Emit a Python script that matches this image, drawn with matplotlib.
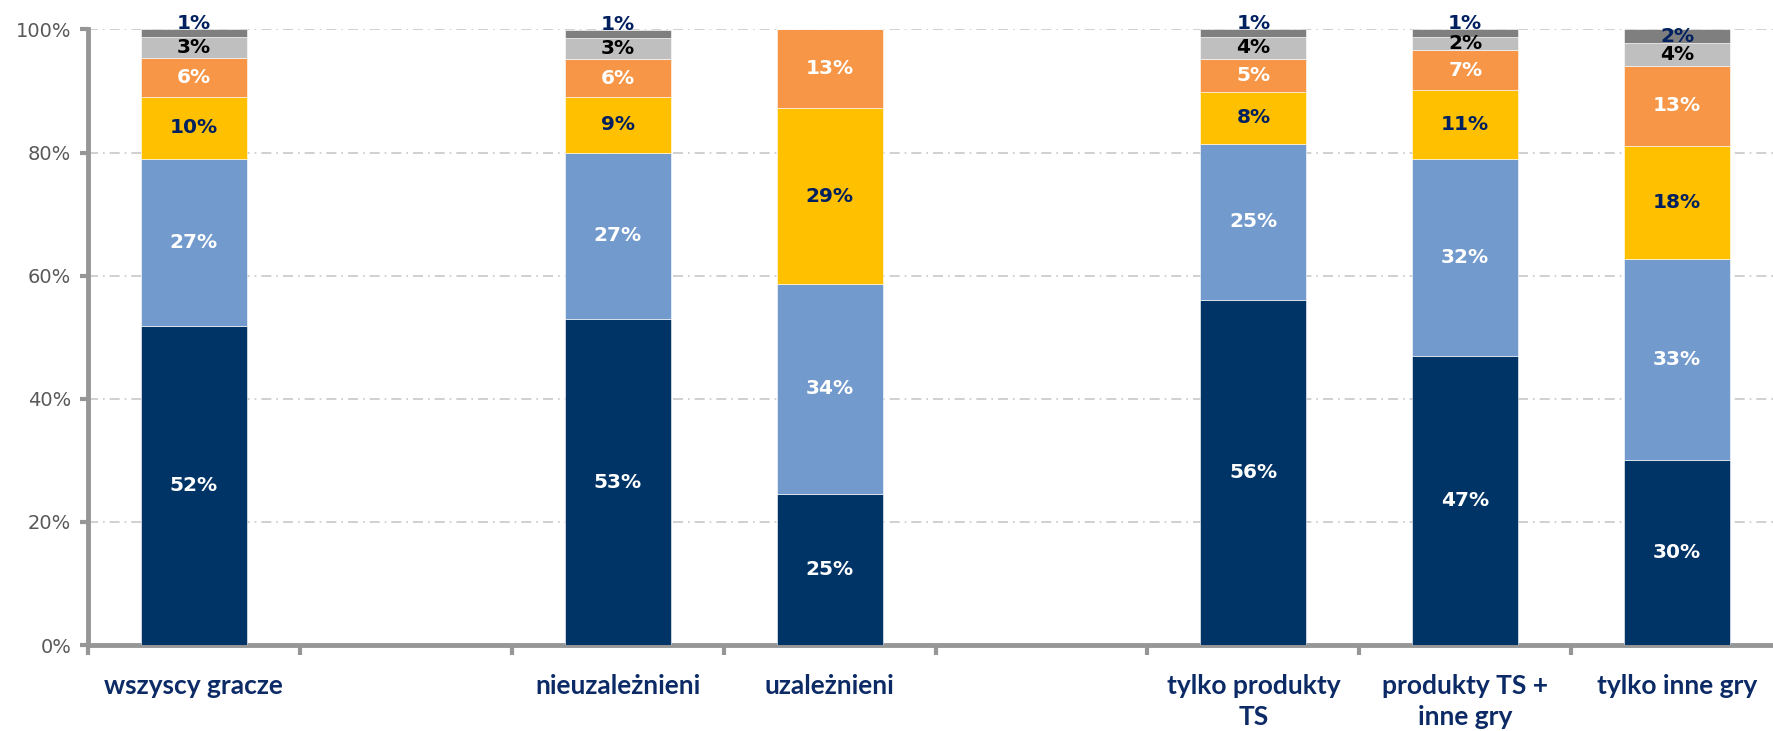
import matplotlib
matplotlib.use("Agg")
import matplotlib.pyplot as plt
import numpy as np

# ---- data ----
categories = ["wszyscy gracze", "", "nieuzależnieni", "uzależnieni", "",
              "tylko produkty\nTS", "produkty TS +\ninne gry", "tylko inne gry"]
seg1 = [51.8, np.nan, 52.9, 24.6, np.nan, 56.1, 46.9, 30.0]
seg2 = [27.2, np.nan, 27.1, 34.0, np.nan, 25.3, 32.1, 32.7]
seg3 = [10.0, np.nan, 9.0, 28.6, np.nan, 8.5, 11.1, 18.4]
seg4 = [6.4, np.nan, 6.2, 12.8, np.nan, 5.3, 6.6, 13.0]
seg5 = [3.3, np.nan, 3.4, 0.0, np.nan, 3.6, 2.0, 3.7]
seg6 = [1.3, np.nan, 1.3, 0.0, np.nan, 1.2, 1.3, 2.2]
yticks = [0, 20, 40, 60, 80, 100]

series = [seg1, seg2, seg3, seg4, seg5, seg6]
colors = ["#003366", "#729ACD", "#FFC000", "#F79646", "#BFBFBF", "#7F7F7F"]
label_colors = ["white", "white", "#002060", "white", "black", "#002060"]

fig = plt.figure(figsize=(17.74, 7.31), dpi=100)
ax = fig.add_axes([0.0496, 0.1176, 0.9555, 0.8422])

x = np.arange(len(categories))
bottom = np.zeros(len(categories))
for vals, col, lcol in zip(series, colors, label_colors):
    v = np.array(vals, dtype=float)
    mask = ~np.isnan(v)
    ax.bar(x[mask], v[mask], width=0.5, bottom=bottom[mask], color=col,
           edgecolor="white", linewidth=0.4, zorder=3)
    for xi, vi, bi in zip(x[mask], v[mask], bottom[mask]):
        if vi <= 0:
            continue
        yc = bi + vi / 2
        off = 7 if vi < 1.5 else 0
        ax.annotate(f"{round(vi):d}%", (xi, yc), xytext=(0, off),
                    textcoords="offset points", ha="center", va="center",
                    fontsize=14.5, fontweight="bold", color=lcol,
                    family="DejaVu Sans", zorder=5, annotation_clip=False)
    bottom[mask] = bottom[mask] + v[mask]

ax.set_xlim(-0.5, len(categories) - 0.5)
ax.set_ylim(0, 100)
ax.set_yticks(yticks)
ax.set_yticklabels([f"{t}%" for t in yticks], fontsize=14, color="#595959")

ax.set_xticks(np.arange(-0.5, len(categories)), minor=False)
ax.set_xticklabels([])
ax.set_xticks(x, minor=True)
ax.set_xticklabels(categories, minor=True, fontsize=19, fontweight="bold",
                   color="#0B2A66", family=["Lato", "DejaVu Sans"],
                   linespacing=1.35, va="top")
ax.tick_params(axis="x", which="minor", length=0, pad=21)
ax.tick_params(axis="x", which="major", length=7, width=3, color="#969696", direction="out")
ax.tick_params(axis="y", which="major", length=6, width=3, color="#969696", direction="out", pad=6)

for s in ["top", "right"]:
    ax.spines[s].set_visible(False)
for s in ["left", "bottom"]:
    ax.spines[s].set_color("#969696")
    ax.spines[s].set_linewidth(3.5)

ax.yaxis.grid(True, linestyle=(0, (6, 3, 1, 3)), color="#C8C8C8", linewidth=1.2, zorder=0)
ax.set_axisbelow(True)

fig.savefig("out.png", dpi=100)
